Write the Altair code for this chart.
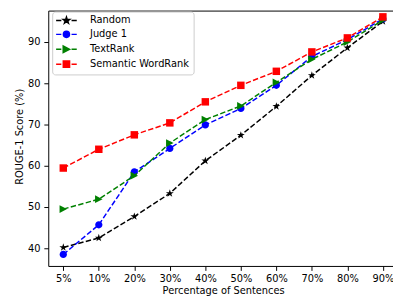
import altair as alt
import pandas as pd

# ---------------- data ----------------
pct_labels = ["5%", "10%", "20%", "30%", "40%", "50%", "60%", "70%", "80%", "90%"]
series_names = ["Random", "Judge 1", "TextRank", "Semantic WordRank"]
random_vals = [40.2, 42.5, 47.7, 53.3, 61.2, 67.4, 74.4, 81.9, 88.6, 95.0]
judge1_vals = [38.5, 45.7, 58.5, 64.2, 69.9, 73.9, 79.5, 86.5, 90.6, 95.6]
textrank_vals = [49.5, 51.9, 57.6, 65.5, 71.2, 74.5, 80.2, 85.8, 90.0, 95.3]
semantic_vals = [59.45, 64.0, 67.5, 70.4, 75.5, 79.5, 82.9, 87.6, 91.0, 96.1]
y_ticks = [40, 50, 60, 70, 80, 90]

series_values = [random_vals, judge1_vals, textrank_vals, semantic_vals]
rows = []
for name, vals in zip(series_names, series_values):
    for i, (lab, v) in enumerate(zip(pct_labels, vals)):
        rows.append({"idx": i, "pct": lab, "series": name, "value": v})
df = pd.DataFrame(rows)

# ---------------- styles ----------------
colors = ["#000000", "#0000ff", "#008000", "#ff0000"]
FONT = "DejaVu Sans"

star_p = ("M0,-1.05 L0.236,-0.324 L0.999,-0.324 L0.381,0.124 L0.617,0.849 "
          "L0,0.401 L-0.617,0.849 L-0.381,0.124 L-0.999,-0.324 L-0.236,-0.324 Z")
circle_p = "M-0.92,0 A0.92,0.92 0 1,0 0.92,0 A0.92,0.92 0 1,0 -0.92,0 Z"
tri_p = "M0.95,0 L-0.95,-0.98 L-0.95,0.98 Z"
square_p = "M-0.95,-0.95 L0.95,-0.95 L0.95,0.95 L-0.95,0.95 Z"
marker_paths = [star_p, circle_p, tri_p, square_p]

leg_star = ("M0,-0.85 L0.19,-0.26 L0.8,-0.26 L0.3,0.1 L0.49,0.68 "
            "L0,0.32 L-0.49,0.68 L-0.3,0.1 L-0.8,-0.26 L-0.19,-0.26 Z")
leg_circle = "M-0.78,0 A0.78,0.78 0 1,0 0.78,0 A0.78,0.78 0 1,0 -0.78,0 Z"
leg_tri = "M0.82,0 L-0.82,-0.85 L-0.82,0.85 Z"
leg_square = "M-0.8,-0.8 L0.8,-0.8 L0.8,0.8 L-0.8,0.8 Z"
dash_part = "M-2.625,0 L-1.3,0 M-0.7,0 L0.7,0 M1.3,0 L2.625,0 "
legend_paths = [dash_part + p for p in [leg_star, leg_circle, leg_tri, leg_square]]

x_domain = [-0.4232, 9.285]
y_domain = [35.714, 97.619]
label_expr = "[" + ",".join("'" + l + "'" for l in pct_labels) + "][datum.value]"

x_scale = alt.Scale(domain=x_domain, nice=False, zero=False)
y_scale = alt.Scale(domain=y_domain, nice=False, zero=False)

x_axis = alt.Axis(values=list(range(len(pct_labels))), labelExpr=label_expr,
                  title="Percentage of Sentences", tickSize=4.5, labelPadding=3,
                  titleX=178, titleY=28.5, titleBaseline="alphabetic",
                  titleAlign="center", labelFlush=False)
y_axis = alt.Axis(values=y_ticks, title="ROUGE-1 Score (%)", tickSize=4.5,
                  labelPadding=4, titleX=-26, titleY=128, titleAngle=270,
                  titleBaseline="alphabetic", titleAlign="center")
top_axis = alt.Axis(orient="top", ticks=False, labels=False, title=None,
                    domain=True)

layers = []
for k, (name, col, mp) in enumerate(zip(series_names, colors, marker_paths)):
    base = alt.Chart(df).transform_filter(alt.datum.series == name)
    xa = x_axis if k == 0 else None
    line = base.mark_line(color=col, strokeWidth=1.5, strokeDash=[5.5, 2.4]).encode(
        x=alt.X("idx:Q", scale=x_scale, axis=xa),
        y=alt.Y("value:Q", scale=y_scale, axis=y_axis),
    )
    pts = base.mark_point(shape=mp, filled=True, color=col, size=64,
                          opacity=1, strokeWidth=0).encode(
        x=alt.X("idx:Q", scale=x_scale, axis=None),
        y=alt.Y("value:Q", scale=y_scale, axis=y_axis),
    )
    layers += [line, pts]

leg = alt.Legend(title=None, orient="none", legendX=4, legendY=1,
                 padding=4, symbolSize=64, symbolStrokeWidth=1.5,
                 symbolOffset=5.5, labelOffset=19, rowPadding=1.2,
                 labelFont=FONT, labelFontSize=10, labelColor="#000000",
                 labelLimit=300, strokeColor="#cccccc", cornerRadius=3,
                 fillColor="rgba(255,255,255,0.8)", symbolOpacity=1)

legend_layer = alt.Chart(df).transform_filter("false").mark_point(
    filled=True, opacity=1, size=64, strokeWidth=1.5).encode(
    x=alt.X("idx:Q", scale=x_scale, axis=top_axis),
    y=alt.Y("value:Q", scale=y_scale, axis=y_axis),
    fill=alt.Fill("series:N", scale=alt.Scale(domain=series_names, range=colors), legend=leg),
    stroke=alt.Stroke("series:N", scale=alt.Scale(domain=series_names, range=colors), legend=leg),
    shape=alt.Shape("series:N", scale=alt.Scale(domain=series_names, range=legend_paths), legend=leg),
)
layers.append(legend_layer)

chart = alt.layer(*layers).resolve_axis(x="independent").properties(
    width=351, height=260,
    padding={"left": 41, "top": 0, "right": 0, "bottom": 31},
    autosize=alt.AutoSizeParams(type="none"),
).configure_view(stroke=None).configure_axis(
    grid=False, domainColor="#000000", domainWidth=1, tickColor="#000000",
    tickWidth=1, labelColor="#000000", labelFont=FONT, labelFontSize=10,
    titleFont=FONT, titleFontSize=10, titleColor="#000000",
    titleFontWeight="normal",
)

chart.save("out.html", embed_options={"renderer": "svg", "actions": False})
